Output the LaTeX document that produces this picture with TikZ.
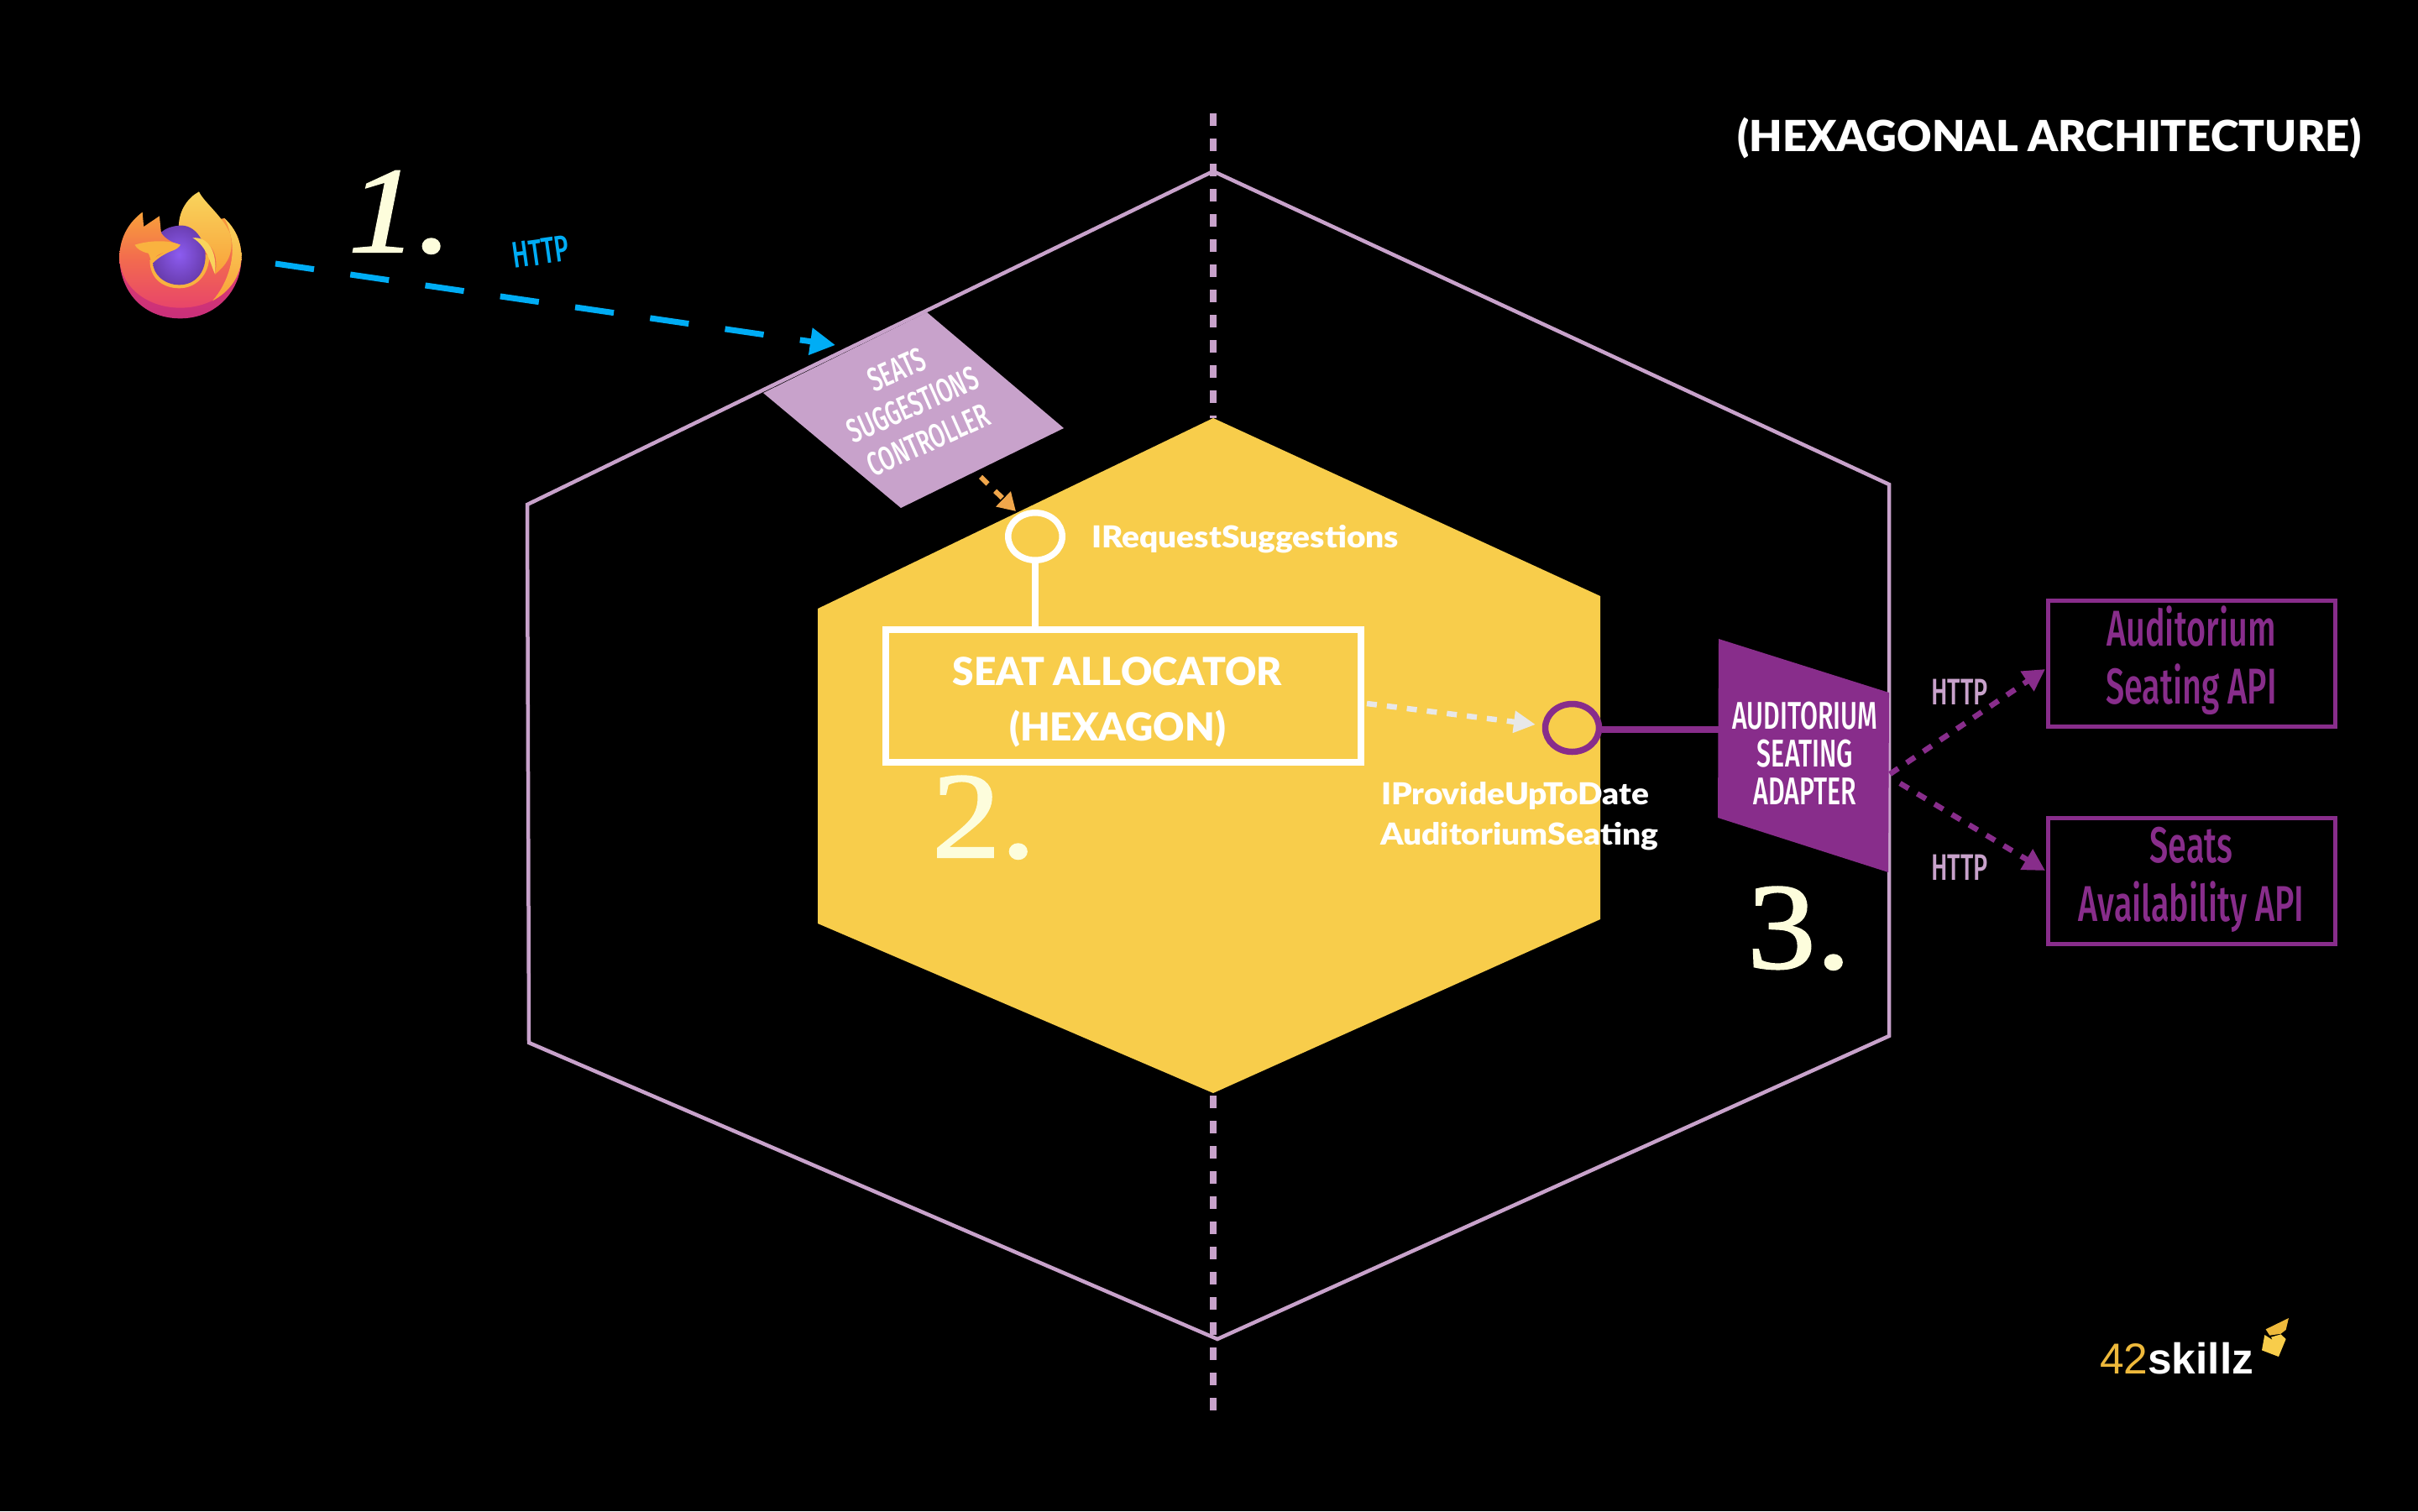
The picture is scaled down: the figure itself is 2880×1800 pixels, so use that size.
\documentclass[tikz,border=0pt]{standalone}
\usepackage{fontspec}
\usetikzlibrary{arrows.meta,shapes.geometric}
\setmainfont{Lato}[BoldFont={Lato Black}]
\newfontfamily\widelato{Lato Black}[FakeStretch=1.08]
\newfontfamily\din{Fira Sans}[FakeStretch=0.66,BoldFont={Fira Sans Medium}]
\newfontfamily\serifnum{Liberation Serif}[FakeBold=1.5,FakeStretch=1.12]
\newfontfamily\logofont{Liberation Sans}
\definecolor{lilac}{HTML}{C8A2CB}
\definecolor{hexyellow}{HTML}{F8CD4B}
\definecolor{adapter}{HTML}{882D8B}
\definecolor{httpblue}{HTML}{00ADF5}
\definecolor{ivory}{HTML}{FDFDDC}
\definecolor{orangearrow}{HTML}{F0A64B}
\definecolor{greyarrow}{HTML}{E8E8E8}
\definecolor{logoyellow}{HTML}{EEB93B}
\definecolor{foxdark}{HTML}{C92F7A}
\definecolor{foxorange}{HTML}{F9A13A}
\definecolor{foxmid}{HTML}{F26A4F}
\definecolor{foxred}{HTML}{E8456A}
\definecolor{foxyellow}{HTML}{F9D45C}
\definecolor{foxtail}{HTML}{F9B23F}
\definecolor{globein}{HTML}{8C5CF0}
\definecolor{globeout}{HTML}{6A3DB0}
\tikzset{
  x=1pt,y=-1pt,
  txt/.style={inner sep=0pt,outer sep=0pt,anchor=base},
  hexline/.style={draw=lilac,line width=4.5pt,line join=miter},
  axis/.style={draw=lilac,line width=8pt,dash pattern=on 15pt off 15pt},
  httparrow/.style={draw=httpblue,line width=7pt,dash pattern=on 46.5pt off 43.7pt,-{Triangle[length=30pt,width=31pt]}},
  orangedash/.style={draw=orangearrow,line width=6pt,dash pattern=on 12pt off 12pt,-{Triangle[length=21pt,width=24pt]}},
  greydash/.style={draw=greyarrow,line width=6.5pt,dash pattern=on 12pt off 12pt,-{Triangle[length=26pt,width=25pt]}},
  purpledash/.style={draw=adapter,line width=6.5pt,dash pattern=on 12pt off 12pt,-{Triangle[length=26pt,width=27pt]}},
  apibox/.style={draw=adapter,line width=5pt},
  apitext/.style={txt,text=adapter,font=\din\bfseries\fontsize{60}{60}\selectfont},
  adaptertext/.style={txt,text=white,font=\din\bfseries\fontsize{46}{46}\selectfont},
  numeral/.style={txt,anchor=base west,text=ivory,font=\serifnum\fontsize{146}{146}\selectfont},
  iface/.style={txt,anchor=base west,text=white,font=\widelato\fontsize{36}{36}\selectfont},
  mainlabel/.style={txt,text=white,font=\bfseries\fontsize{46}{46}\selectfont},
  httplabel/.style={txt,text=lilac,font=\din\bfseries\fontsize{44}{44}\selectfont},
}
\newcommand{\numdot}{{\fontsize{150}{150}\selectfont.}}
\begin{document}
\begin{tikzpicture}
\fill[black] (0,0) rectangle (2880,1800);
\useasboundingbox (0,0) rectangle (2880,1800);
% axis
\coordinate (axA) at (1445,135);
\coordinate (axB) at (1445,498);
\coordinate (axC) at (1445,1305);
\coordinate (axD) at (1445,1680);
\draw[axis] (axA) -- (axB);
\draw[axis] (axC) -- (axD);
% outer hexagon
\draw[hexline] (1445,204) -- (2250,577) -- (2250,1234) -- (1450,1595) -- (630,1242) -- (628,601) -- cycle;
% inner hexagon
\fill[hexyellow] (1445,498) -- (1906,710) -- (1906,1095) -- (1445,1302) -- (974,1100) -- (974,725) -- cycle;
% controller
\fill[lilac] (1104,372) -- (1267,510) -- (1073,605) -- (909,468) -- cycle;
\coordinate (ctrlOut) at (1168,568);
\node[txt,anchor=center,rotate=24,align=center,text=white,font=\din\bfseries\fontsize{40}{46}\selectfont] (ctrl) at (1087,482) {SEATS\\SUGGESTIONS\\CONTROLLER};
% adapter
\fill[adapter] (2047,761) -- (2250,825) -- (2249,1039) -- (2046,974) -- cycle;
\coordinate (adOut) at (2047,869);
\coordinate (adR1) at (2251,922);
\coordinate (adR2) at (2263,933);
\node[adaptertext] (ad1) at (2150,868) {AUDITORIUM};
\node[adaptertext] (ad2) at (2150,913) {SEATING};
\node[adaptertext] (ad3) at (2150,958) {ADAPTER};
% interface circles
\node[draw=white,line width=7.5pt,ellipse,minimum width=64.5pt,minimum height=56.5pt,inner sep=0pt] (ifA) at (1233,639) {};
\node[draw=adapter,line width=7.5pt,ellipse,minimum width=64pt,minimum height=57pt,inner sep=0pt] (ifB) at (1872.5,867) {};
% hexagon box
\node[draw=white,line width=8pt,minimum width=566pt,minimum height=158pt,inner sep=0pt] (core) at (1338,829) {};
\draw[white,line width=8pt] (ifA.south) -- (core.north -| ifA.south);
\draw[adapter,line width=8pt] (ifB.east |- adOut) -- (adOut);
\node[mainlabel] (l1) at (1331,816) {SEAT ALLOCATOR};
\node[mainlabel] (l2) at (1331,882) {(HEXAGON)};
\node[iface] (l3) at (1300,652) {IRequestSuggestions};
\node[iface] (l4) at (1645,958) {IProvideUpToDate};
\node[iface] (l5) at (1644,1006) {AuditoriumSeating};
% numerals
\node[numeral,font=\serifnum\itshape\fontsize{146}{146}\selectfont] (n1) at (415,300) {1\numdot};
\node[numeral] (n2) at (1110,1021) {2\numdot};
\node[numeral] (n3) at (2081,1153) {3\numdot};
% API boxes
\node[apibox,minimum width=342pt,minimum height=150pt,inner sep=0pt] (api1) at (2610.5,790.5) {};
\node[apibox,minimum width=342pt,minimum height=150pt,inner sep=0pt] (api2) at (2610.5,1049.5) {};
\node[apitext] (a1) at (2610,769) {Auditorium};
\node[apitext] (a2) at (2610,838) {Seating API};
\node[apitext] (a3) at (2610,1027) {Seats};
\node[apitext] (a4) at (2610,1097) {Availability API};
\node[httplabel] (h1) at (2334,839) {HTTP};
\node[httplabel] (h2) at (2334,1048) {HTTP};
\coordinate (tipA) at (2436,797);
\coordinate (tipB) at (2436,1037);
\draw[purpledash] (adR1) -- (tipA);
\draw[purpledash] (adR2) -- (tipB);
% arrows
\coordinate (fox) at (328,314);
\coordinate (ctrlIn) at (995,411);
\coordinate (ifAin) at (1210,609);
\coordinate (coreOut) at (1628,838);
\coordinate (ifBin) at (1829,863);
\draw[httparrow] (fox) -- (ctrlIn);
\draw[orangedash] (ctrlOut) -- (ifAin);
\draw[greydash] (coreOut) -- (ifBin);
\node[txt,anchor=center,rotate=8,text=httpblue,font=\din\bfseries\fontsize{44}{44}\selectfont] (h0) at (644,300) {HTTP};
% title
\node[txt,anchor=base east,text=white,font=\bfseries\fontsize{51}{51}\selectfont] (title) at (2813,180) {(HEXAGONAL ARCHITECTURE)};
% logo
\node[txt,anchor=base west,font=\logofont\fontsize{51.5}{51.5}\selectfont] (logo) at (2501,1636) {\textcolor{logoyellow}{42}\textcolor{white}{\bfseries skillz}};
\begin{scope}[shift={(2440,1540)},x=0.3333pt,y=-0.3333pt]
\fill[logoyellow] (776,130) -- (858,90) -- (848,132) -- (830,146) -- (790,152) -- cycle;
\fill[hexyellow] (772,150) -- (762,205) -- (822,228) -- (848,165) -- (830,148) -- (795,158) -- (800,168) -- cycle;
\end{scope}
% firefox
\begin{scope}[shift={(100,170)},x=0.3827pt,y=-0.3333pt]
\shade[top color=foxred,bottom color=foxdark] (110,400) .. controls (110,540) and (190,628) .. (300,628) .. controls (410,628) and (490,530) .. (490,410) -- (300,300) -- cycle;
\shade[top color=foxorange,bottom color=foxred,middle color=foxmid]
  (110,410) .. controls (112,330) and (145,280) .. (182,248) -- (186,300) -- (235,262) -- (240,320) -- (295,300)
  -- (437,270) .. controls (475,310) and (490,360) .. (490,410)
  .. controls (485,520) and (400,590) .. (300,590) .. controls (200,590) and (115,520) .. (110,410) -- cycle;
% right rim
\shade[top color=foxyellow,bottom color=foxorange] (437,270) .. controls (475,310) and (490,360) .. (490,410) .. controls (488,480) and (450,535) .. (400,565) .. controls (450,500) and (475,400) .. (455,325) .. controls (450,300) and (445,285) .. (437,270) -- cycle;
\shade[top color=foxyellow,bottom color=foxorange] (295,300) .. controls (295,240) and (325,195) .. (358,175) .. controls (375,215) and (430,260) .. (455,325) .. controls (470,400) and (440,440) .. (408,470) .. controls (420,400) and (400,350) .. (340,340) -- cycle;
% glow under the globe
\fill[foxtail] (205,420) .. controls (205,490) and (250,520) .. (297,520) .. controls (350,520) and (390,470) .. (390,405) -- (300,360) -- cycle;
\shade[inner color=globein,outer color=globeout] (297,296) .. controls (345,291) and (378,350) .. (378,405) .. controls (378,465) and (345,508) .. (297,508) .. controls (250,508) and (215,470) .. (215,430) .. controls (250,390) and (290,385) .. (300,365) .. controls (270,355) and (250,340) .. (240,320) .. controls (255,305) and (275,298) .. (297,296) -- cycle;
\fill[foxtail] (158,365) .. controls (200,350) and (260,345) .. (300,365) .. controls (290,385) and (265,390) .. (250,392) .. controls (225,400) and (215,415) .. (215,430) .. controls (205,420) and (205,400) .. (200,395) .. controls (180,390) and (165,380) .. (158,365) -- cycle;
\fill[foxyellow] (338,340) .. controls (385,335) and (415,385) .. (408,470) .. controls (395,440) and (385,370) .. (338,340) -- cycle;
\end{scope}
\end{tikzpicture}
\end{document}
